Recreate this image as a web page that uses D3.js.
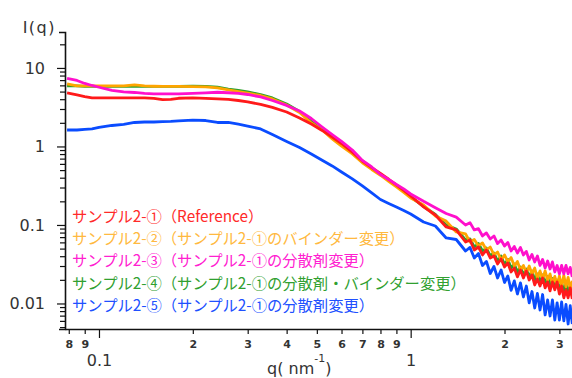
<!DOCTYPE html>
<html>
<head>
<meta charset="utf-8">
<script src="https://cdn.jsdelivr.net/npm/d3@7"></script>
<style>
  body { margin: 0; background: #fff; }
  svg { display: block; }
</style>
</head>
<body>
<div id="chart"></div>
<script>
// q (nm^-1), shared by all five series
const qValues = [0.079, 0.085, 0.09, 0.095, 0.1, 0.11, 0.12, 0.13, 0.14, 0.15, 0.16, 0.17, 0.18, 0.2, 0.22, 0.24, 0.26, 0.28, 0.3, 0.33, 0.36, 0.4, 0.44, 0.48, 0.52, 0.56, 0.6, 0.65, 0.7, 0.75, 0.8, 0.85, 0.9, 0.95, 1.0,
  1.1, 1.2, 1.3, 1.4, 1.5, 1.55, 1.6, 1.65, 1.7, 1.75, 1.8, 1.85, 1.9, 1.95, 2.0, 2.05, 2.1, 2.15, 2.2, 2.25, 2.3, 2.35, 2.4, 2.45, 2.5, 2.55, 2.6, 2.65, 2.7, 2.75, 2.8, 2.85, 2.9, 2.95, 3.0, 3.05, 3.1, 3.15, 3.2, 3.25, 3.3];

// I(q) per sample
const sample1 = [4.80, 4.53, 4.31, 4.15, 4.15, 4.15, 4.15, 4.15, 4.15, 4.09, 3.95, 3.97, 4.11, 4.15, 4.09, 4.03, 3.99, 3.85, 3.69, 3.43, 3.14, 2.75, 2.31, 1.93, 1.60, 1.32, 1.09, 0.844, 0.653, 0.538, 0.452, 0.382, 0.323, 0.275, 0.234,
  0.170, 0.134, 0.0943, 0.0864, 0.0607, 0.0644, 0.0480, 0.0524, 0.0415, 0.0480, 0.0380, 0.0403, 0.0319, 0.0369, 0.0292, 0.0328, 0.0252, 0.0283, 0.0218, 0.0267, 0.0211, 0.0260, 0.0199, 0.0231, 0.0172, 0.0205, 0.0167, 0.0211, 0.0158, 0.0188, 0.0145, 0.0188, 0.0149, 0.0188, 0.0132, 0.0167, 0.0118, 0.0149, 0.0118, 0.0158, 0.0114];
const sample2 = [6.26, 5.90, 5.90, 5.90, 5.90, 5.90, 5.90, 6.07, 5.90, 5.85, 5.81, 5.81, 5.81, 5.78, 5.73, 5.56, 5.24, 4.99, 4.77, 4.46, 4.03, 3.38, 2.71, 1.99, 1.62, 1.25, 1.01, 0.803, 0.620, 0.509, 0.430, 0.360, 0.305, 0.260, 0.221,
  0.180, 0.130, 0.112, 0.0814, 0.0768, 0.0607, 0.0653, 0.0540, 0.0590, 0.0480, 0.0524, 0.0415, 0.0453, 0.0358, 0.0415, 0.0338, 0.0385, 0.0300, 0.0343, 0.0267, 0.0305, 0.0245, 0.0300, 0.0238, 0.0283, 0.0211, 0.0260, 0.0205, 0.0260, 0.0199, 0.0238, 0.0177, 0.0221, 0.0172, 0.0224, 0.0163, 0.0228, 0.0163, 0.0215, 0.0153, 0.0194];
const sample3 = [7.39, 6.93, 6.35, 5.98, 5.68, 5.17, 4.97, 4.87, 4.73, 4.67, 4.67, 4.67, 4.67, 4.73, 4.80, 4.90, 4.83, 4.73, 4.59, 4.27, 3.85, 3.33, 2.83, 2.27, 1.77, 1.42, 1.16, 0.902, 0.663, 0.548, 0.440, 0.380, 0.328, 0.288, 0.248,
  0.200, 0.166, 0.140, 0.126, 0.100, 0.107, 0.0864, 0.0900, 0.0724, 0.0791, 0.0663, 0.0724, 0.0580, 0.0644, 0.0540, 0.0598, 0.0466, 0.0532, 0.0440, 0.0517, 0.0415, 0.0460, 0.0358, 0.0421, 0.0338, 0.0403, 0.0305, 0.0364, 0.0283, 0.0348, 0.0275, 0.0338, 0.0252, 0.0305, 0.0238, 0.0305, 0.0238, 0.0305, 0.0238, 0.0288, 0.0218];
const sample4 = [5.90, 5.90, 5.81, 5.81, 5.81, 5.81, 5.81, 5.81, 5.81, 5.81, 5.81, 5.81, 5.81, 5.85, 5.81, 5.69, 5.39, 5.17, 4.95, 4.59, 4.15, 3.48, 2.79, 2.08, 1.65, 1.30, 1.04, 0.827, 0.635, 0.524, 0.440, 0.371, 0.314, 0.267, 0.228,
  0.172, 0.136, 0.100, 0.0889, 0.0644, 0.0663, 0.0524, 0.0580, 0.0466, 0.0509, 0.0403, 0.0440, 0.0348, 0.0403, 0.0314, 0.0364, 0.0283, 0.0319, 0.0252, 0.0292, 0.0231, 0.0275, 0.0218, 0.0260, 0.0199, 0.0238, 0.0183, 0.0231, 0.0177, 0.0221, 0.0165, 0.0208, 0.0158, 0.0199, 0.0149, 0.0188, 0.0140, 0.0180, 0.0136, 0.0172, 0.0128];
const sample5 = [1.62, 1.62, 1.65, 1.67, 1.75, 1.85, 1.91, 2.02, 2.05, 2.05, 2.07, 2.09, 2.12, 2.16, 2.14, 2.02, 2.02, 1.92, 1.82, 1.67, 1.42, 1.16, 0.968, 0.803, 0.667, 0.565, 0.473, 0.386, 0.314, 0.256, 0.211, 0.188, 0.169, 0.153, 0.138,
  0.109, 0.0971, 0.0683, 0.0653, 0.0466, 0.0517, 0.0380, 0.0433, 0.0305, 0.0343, 0.0241, 0.0296, 0.0211, 0.0267, 0.0185, 0.0224, 0.0147, 0.0194, 0.0132, 0.0183, 0.0121, 0.0167, 0.0102, 0.0142, 0.00876, 0.0134, 0.00826, 0.0130, 0.00714, 0.0111, 0.00693, 0.0111, 0.00616, 0.0102, 0.00616, 0.0105, 0.00599, 0.0097, 0.00548, 0.0094, 0.00548];

const seriesNames = [
  "サンプル2-①（Reference）",
  "サンプル2-②（サンプル2-①のバインダー変更）",
  "サンプル2-③（サンプル2-①の分散剤変更）",
  "サンプル2-④（サンプル2-①の分散剤・バインダー変更）",
  "サンプル2-⑤（サンプル2-①の分散剤変更）"
];
const seriesValues = [sample1, sample2, sample3, sample4, sample5];
const seriesColors = ["#ff1a1a", "#ffa500", "#ff10cc", "#2ca02c", "#0a4cff"];
const legendColors = ["#ff2a2a", "#ffb940", "#ff20d0", "#30a030", "#2050ff"];
// draw order: green first, blue last
const drawOrder = [3, 1, 0, 2, 4];

const xMajorTicks = [0.1, 1];
const xMinorTicks = [0.08, 0.09, 0.2, 0.3, 0.4, 0.5, 0.6, 0.7, 0.8, 0.9, 2, 3];
const yMajorTicks = [0.01, 0.1, 1, 10];
const yMinorTicks = [0.005, 0.006, 0.007, 0.008, 0.009,
  0.02, 0.03, 0.04, 0.05, 0.06, 0.07, 0.08, 0.09,
  0.2, 0.3, 0.4, 0.5, 0.6, 0.7, 0.8, 0.9,
  2, 3, 4, 5, 6, 7, 8, 9, 20];

const w = 572, h = 378;
const plot = { left: 65, right: 572, top: 32, bottom: 329 };
const numFont = "'DejaVu Sans', Verdana, sans-serif";
const jpFont = "'Noto Sans CJK JP', 'Noto Sans', sans-serif";

const x = d3.scaleLog().domain([0.0778, 3.293]).range([plot.left, plot.right]);
const y = d3.scaleLog().domain([0.00473, 28.7]).range([plot.bottom, plot.top]);

const svg = d3.select("#chart").append("svg")
  .attr("width", w)
  .attr("height", h);

svg.append("clipPath").attr("id", "plotClip")
  .append("rect")
  .attr("x", plot.left).attr("y", plot.top)
  .attr("width", plot.right - plot.left).attr("height", plot.bottom - plot.top);

// curves
const line = d3.line()
  .x(d => x(d[0]))
  .y(d => y(d[1]));

const curves = svg.append("g").attr("clip-path", "url(#plotClip)");
drawOrder.forEach(i => {
  curves.append("path")
    .datum(qValues.map((q, k) => [q, seriesValues[i][k]]))
    .attr("fill", "none")
    .attr("stroke", seriesColors[i])
    .attr("stroke-width", 2.8)
    .attr("stroke-linejoin", "round")
    .attr("d", line);
});

// axes
const digit = d => String(Math.round(d / Math.pow(10, Math.floor(Math.log10(d) + 1e-9))));

const xMinor = svg.append("g")
  .attr("transform", `translate(0, ${plot.bottom})`)
  .call(d3.axisBottom(x).tickValues(xMinorTicks).tickFormat(digit).tickSize(5).tickSizeOuter(0).tickPadding(6));
xMinor.select(".domain").remove();
xMinor.selectAll("text").attr("font-size", 11).attr("font-weight", "bold");

const xMajor = svg.append("g")
  .attr("transform", `translate(0, ${plot.bottom})`)
  .call(d3.axisBottom(x).tickValues(xMajorTicks).tickFormat(d => String(d)).tickSize(9).tickSizeOuter(0).tickPadding(17));
xMajor.selectAll("text").attr("font-size", 16);

const yMinor = svg.append("g")
  .attr("transform", `translate(${plot.left}, 0)`)
  .call(d3.axisLeft(y).tickValues(yMinorTicks).tickFormat("").tickSize(5).tickSizeOuter(0));
yMinor.select(".domain").remove();

const yMajor = svg.append("g")
  .attr("transform", `translate(${plot.left}, 0)`)
  .call(d3.axisLeft(y).tickValues(yMajorTicks).tickFormat(d => String(d)).tickSize(8).tickSizeOuter(6).tickPadding(12));
yMajor.selectAll("text").attr("font-size", 16);

svg.selectAll("g text")
  .attr("font-family", numFont)
  .attr("fill", "#333");
svg.selectAll(".domain").attr("stroke", "#111").attr("stroke-width", 1.6);
svg.selectAll(".tick line").attr("stroke", "#111").attr("stroke-width", 1.2);

// axis titles
svg.append("text")
  .attr("x", 56).attr("y", 33)
  .attr("text-anchor", "end")
  .attr("font-family", numFont)
  .attr("font-size", 16)
  .attr("letter-spacing", 1.5)
  .attr("fill", "#333")
  .text("I(q)");

const xTitle = svg.append("text")
  .attr("x", 267).attr("y", 374)
  .attr("font-family", numFont)
  .attr("font-size", 16)
  .attr("fill", "#333");
xTitle.append("tspan").text("q( nm");
xTitle.append("tspan").attr("font-size", 11).attr("dy", -12).text("-1");
xTitle.append("tspan").attr("dy", 12).text(")");

// legend
svg.append("g").selectAll("text")
  .data(seriesNames)
  .enter()
  .append("text")
  .attr("x", 72)
  .attr("y", (_, i) => 215 + i * 22.2)
  .attr("dominant-baseline", "central")
  .attr("font-family", jpFont)
  .attr("font-size", 15.3)
  .attr("fill", (_, i) => legendColors[i])
  .text(d => d);
</script>
</body>
</html>
